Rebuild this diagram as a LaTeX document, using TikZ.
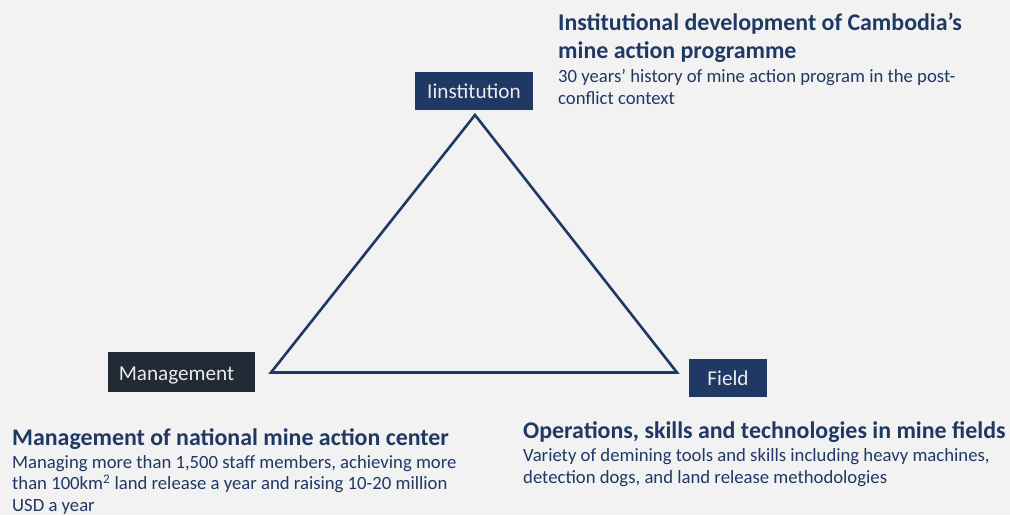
\documentclass[tikz,border=0pt]{standalone}
\usepackage{fontspec}
\setmainfont{Carlito}
\definecolor{bg}{HTML}{F2F2F2}
\definecolor{navy}{HTML}{203864}
\definecolor{darkbox}{HTML}{222A35}
\definecolor{txt}{HTML}{1F3864}
\begin{document}
\begin{tikzpicture}[x=1pt,y=-1pt,
  labelbox/.style={fill=navy,text=white!92!black,inner sep=0pt,font=\fontsize{21.2}{24}\selectfont},
  headtxt/.style={anchor=base west,inner sep=0pt,text=txt,align=left,font=\fontsize{23.9}{28}\selectfont\bfseries},
  bodytxt/.style={anchor=base west,inner sep=0pt,text=txt,align=left,font=\fontsize{18.7}{21.5}\selectfont},
  tri/.style={draw=txt,line width=2.6pt,line join=miter}]
\fill[bg] (0,0) rectangle (1010,515);
\useasboundingbox (0,0) rectangle (1010,515);
% triangle
\coordinate (top) at (475,115);
\coordinate (bl) at (271,372.5);
\coordinate (br) at (677,372.5);
\draw[tri] (top) -- (br) -- (bl) -- cycle;
% label boxes
\node[labelbox,minimum width=118pt,minimum height=38pt] (inst) at (474,91) {Iinstitution};
\node[labelbox,fill=darkbox,minimum width=147pt,minimum height=40pt,text height=14pt,text depth=5pt] (mgmt) at (181.5,372) {\hspace*{-10pt}\raisebox{-3.5pt}{Management}};
\node[labelbox,minimum width=78pt,minimum height=38pt] (field) at (728,378) {Field};
% texts (base anchor = last line baseline)
\node[headtxt] (h1) at (558,58) {Institutional development of Cambodia’s\\mine action programme};
\node[bodytxt] (b1) at (558,104) {30 years’ history of mine action program in the post-\\conflict context};
\node[headtxt] (h2) at (12,445) {Management of national mine action center};
\node[bodytxt] (b2) at (12,511) {Managing more than 1,500 staff members, achieving more\\than 100km\textsuperscript{2} land release a year and raising 10-20 million\\USD a year};
\node[headtxt] (h3) at (523,438) {Operations, skills and technologies in mine fields};
\node[bodytxt] (b3) at (523,483) {Variety of demining tools and skills including heavy machines,\\detection dogs, and land release methodologies};
\end{tikzpicture}
\end{document}
